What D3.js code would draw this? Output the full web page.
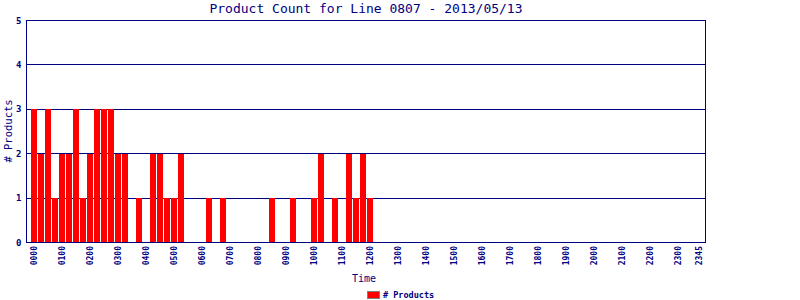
<!DOCTYPE html>
<html>
<head>
<meta charset="utf-8">
<script src="https://cdn.jsdelivr.net/npm/d3@7"></script>
<style>
  html, body { margin: 0; padding: 0; background: #fff; }
  svg { display: block; }
  text { font-family: "DejaVu Sans Mono", "Liberation Mono", monospace; fill: #000080; }
</style>
</head>
<body>
<svg id="chart" width="800" height="300"></svg>
<script>
const title = "Product Count for Line 0807 - 2013/05/13";
const yTitle = "# Products";
const xTitle = "Time";
const legendLabel = "# Products";

const slots = [
  "0000","0015","0030","0045","0100","0115","0130","0145",
  "0200","0215","0230","0245","0300","0315","0330","0345",
  "0400","0415","0430","0445","0500","0515","0530","0545",
  "0600","0615","0630","0645","0700","0715","0730","0745",
  "0800","0815","0830","0845","0900","0915","0930","0945",
  "1000","1015","1030","1045","1100","1115","1130","1145",
  "1200","1215","1230","1245","1300","1315","1330","1345",
  "1400","1415","1430","1445","1500","1515","1530","1545",
  "1600","1615","1630","1645","1700","1715","1730","1745",
  "1800","1815","1830","1845","1900","1915","1930","1945",
  "2000","2015","2030","2045","2100","2115","2130","2145",
  "2200","2215","2230","2245","2300","2315","2330","2345"
];

const counts = [
  3,2,3,1,2,2,3,1,
  2,3,3,3,2,2,0,1,
  0,2,2,1,1,2,0,0,
  0,1,0,1,0,0,0,0,
  0,0,1,0,0,1,0,0,
  1,2,0,1,0,2,1,2,
  1,0,0,0,0,0,0,0,
  0,0,0,0,0,0,0,0,
  0,0,0,0,0,0,0,0,
  0,0,0,0,0,0,0,0,
  0,0,0,0,0,0,0,0,
  0,0,0,0,0,0,0,0
];

const xTickLabels = [
  "0000","0100","0200","0300","0400","0500","0600","0700",
  "0800","0900","1000","1100","1200","1300","1400","1500",
  "1600","1700","1800","1900","2000","2100","2200","2300","2345"
];

const yTicks = [0, 1, 2, 3, 4, 5];

(function () {
const navy = "#000080";
const svg = d3.select("#chart");
const pL = 26.5, pR = 705.5, pT = 20.5, pB = 242.5;

const x = d3.scalePoint().domain(slots).range([pL, pR]).padding(1);
const y = d3.scaleLinear().domain([0, 5]).range([pB, pT]);

// gridlines
svg.append("g").selectAll("line").data(yTicks.filter(d => d > 0)).join("line")
  .attr("x1", pL).attr("x2", pR)
  .attr("y1", d => Math.floor(y(d)) + 0.5).attr("y2", d => Math.floor(y(d)) + 0.5)
  .attr("stroke", navy).attr("stroke-width", 1);

// bars
const bw = 6;
svg.append("g").attr("shape-rendering", "crispEdges").selectAll("rect")
  .data(slots.map((s, i) => ({ s, v: counts[i] })).filter(d => d.v > 0))
  .join("rect")
  .attr("x", d => x(d.s) - bw / 2)
  .attr("width", bw)
  .attr("y", d => y(d.v))
  .attr("height", d => y(0) - y(d.v))
  .attr("fill", "#ff0000");

// frame
svg.append("rect")
  .attr("x", pL).attr("y", pT)
  .attr("width", pR - pL).attr("height", pB - pT)
  .attr("fill", "none").attr("stroke", navy).attr("stroke-width", 1);

// y tick labels
svg.append("g").selectAll("text").data(yTicks).join("text")
  .attr("x", 21.5).attr("y", d => y(d))
  .attr("dy", "0.35em")
  .attr("text-anchor", "end")
  .attr("font-size", 9)
  .attr("font-weight", "bold")
  .text(d => d);

// x tick labels
svg.append("g").selectAll("text").data(xTickLabels).join("text")
  .attr("transform", d => `translate(${x(d) + 3},${246}) rotate(-90)`)
  .attr("text-anchor", "end")
  .attr("font-size", 8)
  .attr("font-weight", "bold")
  .text(d => d);

// title
svg.append("text")
  .attr("x", (pL + pR) / 2).attr("y", 13)
  .attr("text-anchor", "middle")
  .attr("font-size", 13)
  .text(title);

// y title
svg.append("text")
  .attr("transform", `translate(11.5,131) rotate(-90)`)
  .attr("text-anchor", "middle")
  .attr("font-size", 10.5)
  .text(yTitle);

// x title
svg.append("text")
  .attr("x", 364).attr("y", 281.5)
  .attr("text-anchor", "middle")
  .attr("font-size", 10)
  .text(xTitle);

// legend
svg.append("rect")
  .attr("x", 367.5).attr("y", 291.5).attr("width", 12).attr("height", 7)
  .attr("fill", "#ff0000").attr("stroke", "#808080").attr("stroke-width", 1);
svg.append("text")
  .attr("x", 383).attr("y", 298)
  .attr("font-size", 8.5)
  .attr("font-weight", "bold")
  .text(legendLabel);
})();
</script>
</body>
</html>
